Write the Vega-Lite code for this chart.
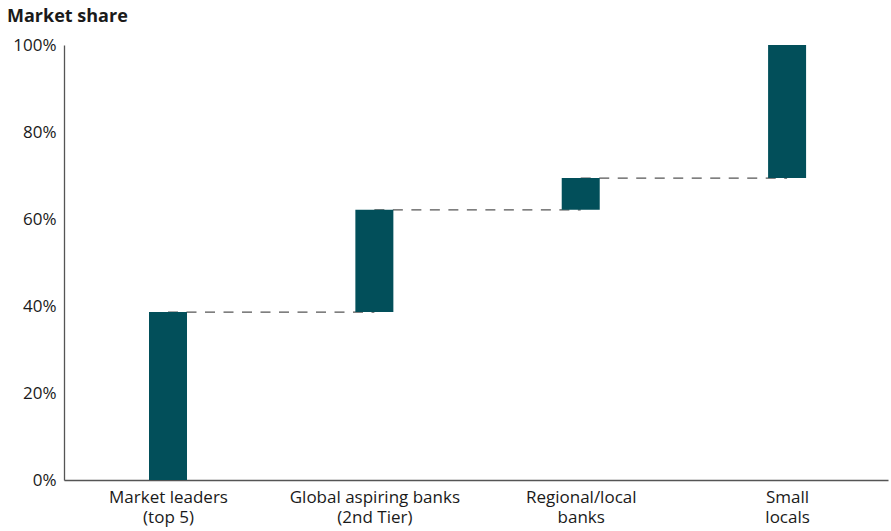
{
  "$schema": "https://vega.github.io/schema/vega-lite/v6.json",
  "width": 824,
  "height": 435,
  "autosize": {"type": "none"},
  "padding": {"left": 64, "top": 45, "right": 3, "bottom": 51},
  "background": "white",
  "title": {
    "text": "Market share",
    "anchor": "start",
    "frame": "group",
    "dx": -57,
    "offset": 10,
    "font": "Open Sans",
    "fontSize": 18,
    "fontWeight": "bold",
    "color": "#1a1a1a"
  },
  "datasets": {
    "bars": [
      {"idx": 0, "label": "Market leaders (top 5)", "start": 0, "end": 0.386},
      {"idx": 1, "label": "Global aspiring banks (2nd Tier)", "start": 0.386, "end": 0.621},
      {"idx": 2, "label": "Regional/local banks", "start": 0.621, "end": 0.694},
      {"idx": 3, "label": "Small locals", "start": 0.694, "end": 1.0}
    ],
    "links": [
      {"from": 0, "to": 1, "level": 0.386},
      {"from": 1, "to": 2, "level": 0.621},
      {"from": 2, "to": 3, "level": 0.694}
    ]
  },
  "config": {
    "view": {"stroke": null},
    "scale": {"continuousPadding": 0},
    "axis": {
      "labelFont": "Open Sans",
      "labelFontSize": 17,
      "labelColor": "#1a1a1a",
      "domainColor": "#555555",
      "domainWidth": 1.3,
      "ticks": false,
      "grid": false,
      "title": null
    }
  },
  "layer": [
    {
      "data": {"name": "links"},
      "mark": {"type": "rule", "color": "#555555", "strokeWidth": 1.4, "strokeDash": [10, 8.5]},
      "encoding": {
        "x": {"field": "from", "type": "quantitative", "scale": {"domain": [-0.504, 3.489], "nice": false, "zero": false, "padding": 0}},
        "x2": {"field": "to"},
        "y": {"field": "level", "type": "quantitative"}
      }
    },
    {
      "data": {"name": "bars"},
      "mark": {"type": "bar", "size": 38, "color": "#024f5a"},
      "encoding": {
        "x": {
          "field": "idx",
          "type": "quantitative",
          "scale": {"domain": [-0.504, 3.489], "nice": false, "zero": false, "padding": 0},
          "axis": {
            "values": [0, 1, 2, 3],
            "labelPadding": 9,
            "labelLineHeight": 20,
            "labelExpr": "datum.value == 0 ? ['Market leaders', '(top 5)'] : datum.value == 1 ? ['Global aspiring banks', '(2nd Tier)'] : datum.value == 2 ? ['Regional/local', 'banks'] : ['Small', 'locals']"
          }
        },
        "y": {
          "field": "start",
          "type": "quantitative",
          "scale": {"domain": [0, 1], "nice": false, "padding": 0},
          "axis": {"values": [0, 0.2, 0.4, 0.6, 0.8, 1.0], "format": ".0%", "labelPadding": 8}
        },
        "y2": {"field": "end"}
      }
    }
  ]
}
